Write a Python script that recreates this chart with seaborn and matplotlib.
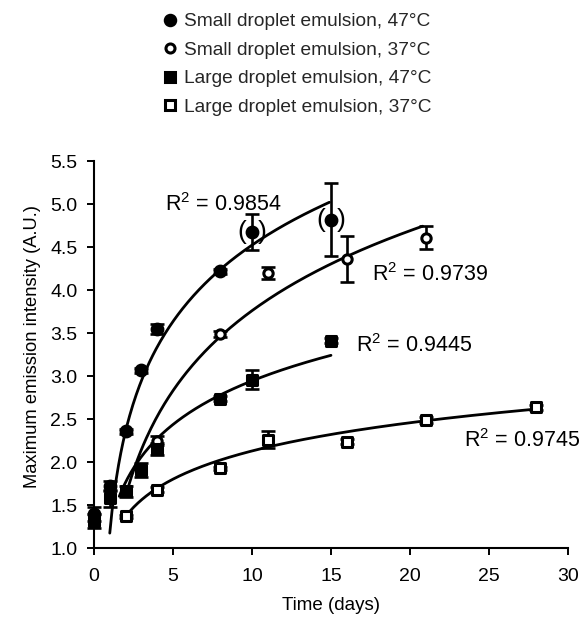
import numpy as np
import pandas as pd
import matplotlib
matplotlib.use("Agg")
import matplotlib.pyplot as plt
import seaborn as sns
from matplotlib.lines import Line2D

# ---------------- data ----------------
series_labels = [
    "Small droplet emulsion, 47°C",
    "Small droplet emulsion, 37°C",
    "Large droplet emulsion, 47°C",
    "Large droplet emulsion, 37°C",
]

small47_x = [0, 1, 2, 3, 4, 8, 10, 15]
small47_y = [1.40, 1.72, 2.36, 3.07, 3.55, 4.22, 4.68, 4.82]
small47_err = [0.08, 0.06, 0.03, 0.03, 0.06, 0.03, 0.21, 0.42]

small37_x = [4, 8, 11, 16, 21]
small37_y = [2.25, 3.49, 4.20, 4.36, 4.61]
small37_err = [0.05, 0.03, 0.07, 0.27, 0.13]

large47_x = [0, 1, 2, 3, 4, 8, 10, 15]
large47_y = [1.32, 1.58, 1.66, 1.91, 2.15, 2.74, 2.96, 3.41]
large47_err = [0.08, 0.10, 0.06, 0.08, 0.07, 0.03, 0.11, 0.03]

large37_x = [2, 4, 8, 11, 16, 21, 28]
large37_y = [1.37, 1.68, 1.93, 2.26, 2.24, 2.49, 2.64]
large37_err = [0.02, 0.03, 0.02, 0.10, 0.03, 0.03, 0.03]

# logarithmic trend lines  y = a*ln(x - shift) + b
fit_a = [1.207, 1.341, 0.732, 0.473]
fit_b = [1.793, 0.673, 1.260, 1.042]
fit_shift = [0.4, 0.0, 0.0, 0.0]
fit_start = [1.0, 2.0, 1.6, 2.0]
fit_end = [14.9, 20.8, 15.0, 28.1]

r2_values = ["0.9854", "0.9739", "0.9445", "0.9745"]
r2_x = [4.5, 17.6, 16.6, 23.4]
r2_y = [5.0, 4.18, 3.36, 2.25]

paren_idx = [6, 7]  # small-droplet 47°C points shown in parentheses

x_ticks = [0, 5, 10, 15, 20, 25, 30]
y_ticks = [1.0, 1.5, 2.0, 2.5, 3.0, 3.5, 4.0, 4.5, 5.0, 5.5]

# ---------------- style ----------------
sns.set_theme(style="ticks")
plt.rcParams["font.family"] = ["Liberation Sans", "DejaVu Sans"]
plt.rcParams["mathtext.fontset"] = "custom"
plt.rcParams["mathtext.rm"] = "Liberation Sans"
plt.rcParams["mathtext.it"] = "Liberation Sans"

fig = plt.figure(figsize=(5.79, 6.29), dpi=100)
ax = fig.add_axes([0.1623, 0.1283, 0.8187, 0.6157])

xs_list = [small47_x, small37_x, large47_x, large37_x]
ys_list = [small47_y, small37_y, large47_y, large37_y]
es_list = [small47_err, small37_err, large47_err, large37_err]
markers = ["o", "o", "s", "s"]
faces = ["black", "white", "black", "white"]
sizes = [60, 45, 58, 52]

# trend lines
for i in range(4):
    xx = np.linspace(fit_start[i], fit_end[i], 200)
    yy = fit_a[i] * np.log(xx - fit_shift[i]) + fit_b[i]
    sns.lineplot(x=xx, y=yy, color="black", linewidth=2.0, ax=ax, zorder=2)

# error bars
for i in range(4):
    ax.errorbar(xs_list[i], ys_list[i], yerr=es_list[i], fmt="none",
                ecolor="black", elinewidth=1.9, capsize=4.7, capthick=1.9,
                zorder=3, clip_on=False)

# markers
for i in range(4):
    sns.scatterplot(x=xs_list[i], y=ys_list[i], marker=markers[i], s=sizes[i],
                    color=faces[i], edgecolor="black", linewidth=2.2,
                    ax=ax, zorder=4, clip_on=False, legend=False)

# parentheses around uncertain points
for j in paren_idx:
    for txt, dx in [("(", -7.2), (")", 7.2)]:
        ax.annotate(txt, (small47_x[j], small47_y[j]), xytext=(dx, -0.5),
                    textcoords="offset points", ha="center", va="center",
                    fontsize=19, color="black", zorder=5)

# R² labels
for v, x, y in zip(r2_values, r2_x, r2_y):
    ax.text(x, y, "R$^2$ = " + v, fontsize=15.5, ha="left", va="center",
            color="black")

ax.set_xlim(0, 30)
ax.set_ylim(1.0, 5.5)
ax.set_xticks(x_ticks)
ax.set_yticks(y_ticks)
ax.set_yticklabels([f"{v:.1f}" for v in y_ticks])
ax.tick_params(axis="both", direction="out", length=5, width=1.4,
               labelsize=14, colors="black")
ax.tick_params(axis="x", pad=9)
ax.tick_params(axis="y", pad=7)
for s in ["top", "right"]:
    ax.spines[s].set_visible(False)
for s in ["left", "bottom"]:
    ax.spines[s].set_linewidth(1.5)
    ax.spines[s].set_color("black")

ax.set_xlabel("Time (days)", fontsize=13.5, color="black", labelpad=9)
ax.set_ylabel("Maximum emission intensity (A.U.)", fontsize=13.2, color="black")
ax.yaxis.set_label_coords(-0.112, 0.52)

# legend
handles = []
for i in range(4):
    handles.append(Line2D([], [], linestyle="none", marker=markers[i],
                          markersize=7.5 if i != 1 else 6.5,
                          markerfacecolor=faces[i], markeredgecolor="black",
                          markeredgewidth=2.2))
fig.legend(handles, series_labels, loc="upper left",
           bbox_to_anchor=(162.0 / 579, 1 - 13 / 629), frameon=False,
           fontsize=13.8, handlelength=0.8, handletextpad=0.35,
           labelspacing=0.58, borderpad=0, borderaxespad=0)

fig.savefig("out.png", dpi=100)
